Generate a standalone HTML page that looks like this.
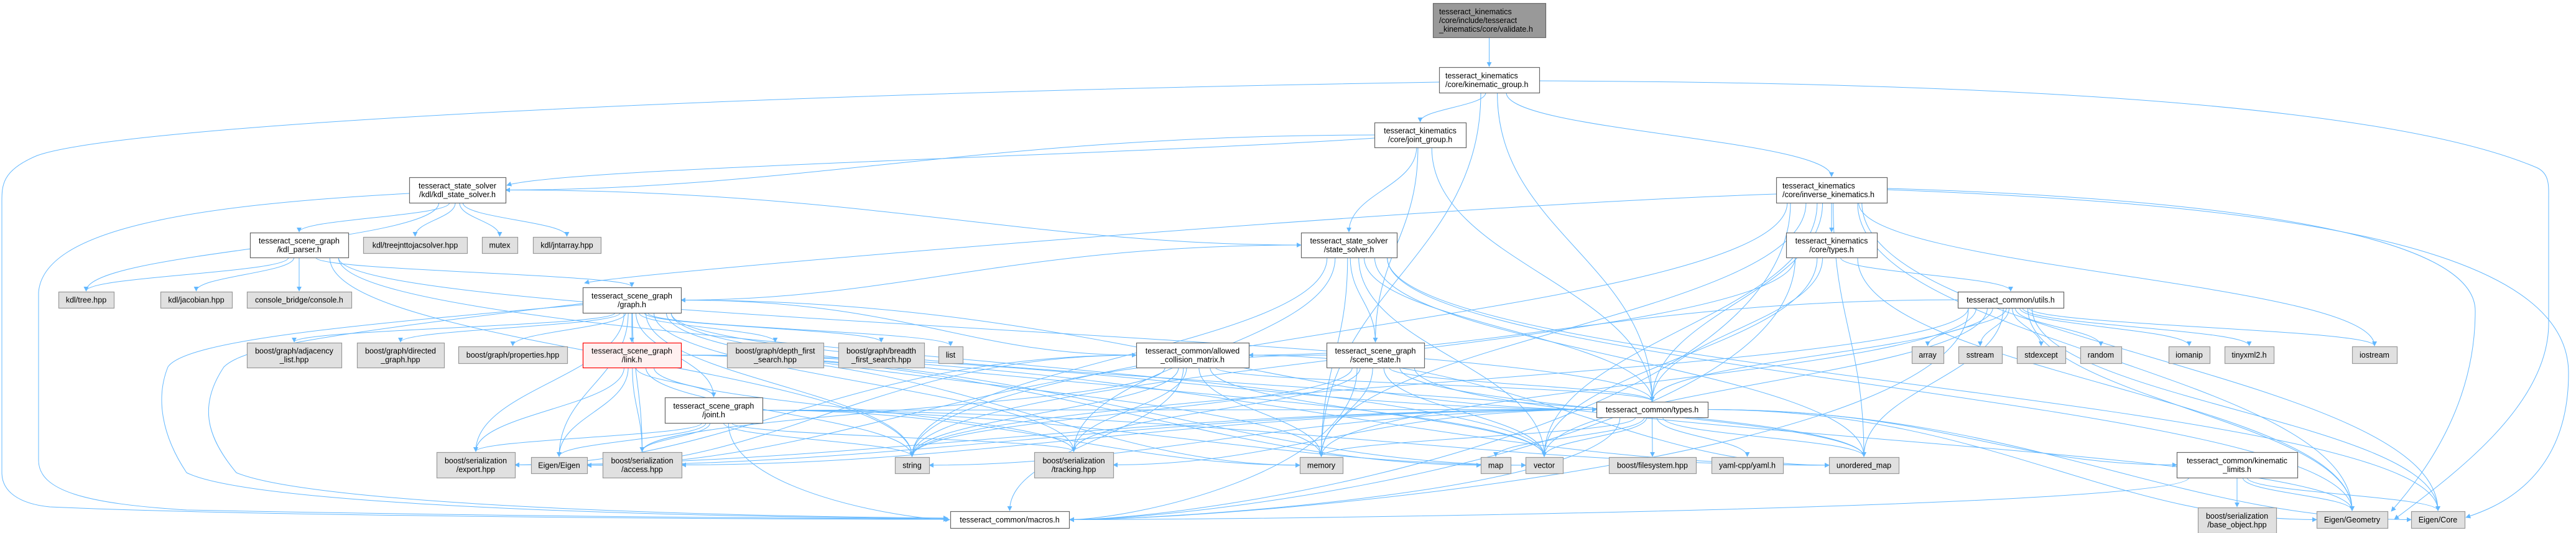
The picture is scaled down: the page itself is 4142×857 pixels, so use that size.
<!DOCTYPE html>
<html><head><meta charset="utf-8">
<style>
html,body{margin:0;padding:0;background:#fff;}
svg{display:block;}
text{font-family:"Liberation Sans",Arial,sans-serif;font-size:12.5px;fill:#000;}
</style></head>
<body>
<svg id="g" width="4142" height="857" viewBox="0 0 4142 857" xmlns="http://www.w3.org/2000/svg">
<defs>
<marker id="ah" viewBox="0 0 10 10" refX="9" refY="5" markerWidth="8" markerHeight="8" orient="auto" markerUnits="userSpaceOnUse">
<path d="M0,0 L10,5 L0,10 z" fill="#63b8ff"/>
</marker>
</defs>
<g id="edges" fill="none" stroke="#63b8ff" stroke-width="1"></g>
<g id="nodes"></g>
</svg>
<script>
var N={
validate:[2304,5,2485,60,3,["tesseract_kinematics","/core/include/tesseract","_kinematics/core/validate.h"]],
kgroup:[2314,108,2475,149,0,["tesseract_kinematics","/core/kinematic_group.h"]],
jgroup:[2210,197,2357,237,0,["tesseract_kinematics","/core/joint_group.h"]],
kdlss:[658,285,813,326,0,["tesseract_state_solver","/kdl/kdl_state_solver.h"]],
invk:[2856,285,3034,326,0,["tesseract_kinematics","/core/inverse_kinematics.h"]],
kdlparser:[402,374,560,414,0,["tesseract_scene_graph","/kdl_parser.h"]],
treejnt:[584,381,751,407,1,["kdl/treejnttojacsolver.hpp"]],
mutex:[775,381,832,407,1,["mutex"]],
jntarray:[857,381,966,407,1,["kdl/jntarray.hpp"]],
ss:[2092,374,2246,414,0,["tesseract_state_solver","/state_solver.h"]],
ktypes:[2872,374,3018,414,0,["tesseract_kinematics","/core/types.h"]],
tree:[94,469,183,495,1,["kdl/tree.hpp"]],
jac:[258,469,373,495,1,["kdl/jacobian.hpp"]],
console:[397,469,565,495,1,["console_bridge/console.h"]],
graph:[937,462,1095,503,0,["tesseract_scene_graph","/graph.h"]],
utils:[3148,469,3318,495,0,["tesseract_common/utils.h"]],
adj:[397,551,549,591,1,["boost/graph/adjacency","_list.hpp"]],
dir:[574,551,714,591,1,["boost/graph/directed","_graph.hpp"]],
prop:[737,557,912,584,1,["boost/graph/properties.hpp"]],
link:[937,551,1095,591,2,["tesseract_scene_graph","/link.h"]],
dfs:[1169,551,1324,591,1,["boost/graph/depth_first","_search.hpp"]],
bfs:[1348,551,1486,591,1,["boost/graph/breadth","_first_search.hpp"]],
list:[1509,557,1548,584,1,["list"]],
acm:[1827,551,2008,591,0,["tesseract_common/allowed","_collision_matrix.h"]],
scst:[2133,551,2290,591,0,["tesseract_scene_graph","/scene_state.h"]],
array:[3074,557,3125,584,1,["array"]],
sstream:[3149,557,3219,584,1,["sstream"]],
stdexc:[3243,557,3321,584,1,["stdexcept"]],
random:[3345,557,3411,584,1,["random"]],
iomanip:[3487,557,3553,584,1,["iomanip"]],
tinyxml:[3577,557,3656,584,1,["tinyxml2.h"]],
iostream:[3782,557,3854,584,1,["iostream"]],
joint:[1069,639,1226,680,0,["tesseract_scene_graph","/joint.h"]],
types:[2567,646,2746,671,0,["tesseract_common/types.h"]],
export:[702,727,828,768,1,["boost/serialization","/export.hpp"]],
eigen:[854,735,944,761,1,["Eigen/Eigen"]],
access:[969,727,1096,768,1,["boost/serialization","/access.hpp"]],
string:[1439,735,1494,761,1,["string"]],
tracking:[1663,727,1790,768,1,["boost/serialization","/tracking.hpp"]],
memory:[2090,735,2159,761,1,["memory"]],
map:[2381,735,2429,761,1,["map"]],
vector:[2453,735,2513,761,1,["vector"]],
fs:[2587,735,2727,761,1,["boost/filesystem.hpp"]],
yaml:[2752,735,2867,761,1,["yaml-cpp/yaml.h"]],
umap:[2941,735,3053,761,1,["unordered_map"]],
klim:[3500,727,3694,768,0,["tesseract_common/kinematic","_limits.h"]],
macros:[1528,822,1719,849,0,["tesseract_common/macros.h"]],
base:[3534,816,3660,857,1,["boost/serialization","/base_object.hpp"]],
geom:[3725,822,3839,849,1,["Eigen/Geometry"]],
core:[3877,822,3963,849,1,["Eigen/Core"]]
};
var E=[
["validate","kgroup"],["kgroup","jgroup"],["kgroup","invk"],["kgroup","memory"],["kgroup","types"],
["jgroup","kdlss"],["jgroup","scst"],["jgroup","types"],["jgroup","ss"],
["kdlss","kdlparser"],["kdlss","treejnt"],["kdlss","mutex"],["kdlss","jntarray"],["kdlss","tree"],["kdlss","ss"],
["kdlparser","tree"],["kdlparser","jac"],["kdlparser","console"],["kdlparser","graph"],["kdlparser","vector"],["kdlparser","string"],["kdlparser","types"],
["ss","graph"],["ss","scst"],["ss","memory"],["ss","vector"],["ss","types"],["ss","umap"],["ss","geom"],["ss","string"],["ss","core"],["ss","tracking"],
["graph","adj"],["graph","dir"],["graph","prop"],["graph","link"],["graph","dfs"],["graph","bfs"],["graph","list"],["graph","acm"],["graph","joint"],["graph","export"],["graph","access"],["graph","string"],["graph","memory"],["graph","eigen"],["graph","tracking"],["graph","types"],["graph","vector"],["graph","umap"],
["link","joint"],["link","export"],["link","eigen"],["link","access"],["link","string"],["link","memory"],["link","vector"],["link","tracking"],["link","map"],["link","types"],["link","umap"],
["joint","export"],["joint","eigen"],["joint","access"],["joint","string"],["joint","tracking"],["joint","memory"],["joint","vector"],["joint","umap"],["joint","macros"],["joint","types"],
["acm","types"],["acm","string"],["acm","memory"],["acm","vector"],["acm","umap"],["acm","macros"],["acm","tracking"],["acm","export"],["acm","access"],["acm","eigen"],
["scst","types"],["scst","memory"],["scst","vector"],["scst","macros"],["scst","umap"],["scst","string"],["scst","geom"],["scst","tracking"],["scst","eigen"],
["types","string"],["types","memory"],["types","map"],["types","vector"],["types","fs"],["types","yaml"],["types","umap"],["types","macros"],["types","klim"],["types","core"],["types","geom"],["types","export"],["types","access"],["types","tracking"],["types","eigen"],
["invk","ktypes"],["invk","iostream"],["invk","core"],["invk","geom"],["invk","types"],["invk","memory"],["invk","vector"],["invk","string"],["invk","umap"],["invk","macros"],
["ktypes","utils"],["ktypes","types"],["ktypes","macros"],["ktypes","vector"],["ktypes","geom"],["ktypes","string"],
["utils","array"],["utils","sstream"],["utils","stdexc"],["utils","random"],["utils","iomanip"],["utils","tinyxml"],["utils","iostream"],["utils","types"],["utils","acm"],["utils","core"],["utils","geom"],["utils","vector"],["utils","string"],["utils","umap"],["utils","memory"],["utils","macros"],
["klim","base"],["klim","geom"],["klim","core"],["klim","macros"]
];
var NS="http://www.w3.org/2000/svg";
var eg=document.getElementById("edges"),ng=document.getElementById("nodes");
function mk(t,a,p){var e=document.createElementNS(NS,t);for(var k in a)e.setAttribute(k,a[k]);p.appendChild(e);return e;}
function cx(n){return (n[0]+n[2])/2;}
E.forEach(function(e){
 var s=N[e[0]],t=N[e[1]];
 var sx=cx(s),sy=s[3],tx=cx(t),ty=t[1];
 var dx=tx-sx;
 // start offset toward target
 var w=(s[2]-s[0])/2;
 sx+=Math.max(-w*0.8,Math.min(w*0.8,dx*0.05));
 var d;
 if(e[1]=="macros" && Math.abs(dx)>400){
   // come in from the side
   var ex = dx>0? t[0]: t[2]; var ey=(t[1]+t[3])/2;
   d="M"+sx+","+sy+" C"+sx+","+(sy+(ey-sy)*0.7)+" "+(ex+(sx-ex)*0.2)+","+ey+" "+(ex+(dx>0?-1:1))+","+ey;
 } else if(Math.abs(dx)>900 && ty-sy<200){
   var ex2 = dx>0? t[0]: t[2]; var ey2=(t[1]+t[3])/2;
   sx=dx>0?s[2]:s[0]; sy=(s[1]+s[3])/2;
   d="M"+sx+","+sy+" C"+(sx+dx*0.4)+","+sy+" "+(ex2-dx*0.3)+","+ey2+" "+ex2+","+ey2;
 } else {
   var dy=ty-sy;
   d="M"+sx+","+sy+" C"+sx+","+(sy+dy*0.45)+" "+tx+","+(ty-dy*0.45)+" "+tx+","+(ty-1);
 }
 mk("path",{d:d,"marker-end":"url(#ah)"},eg);
});
// long special curves
[
 "M2314,132 C1200,150 200,200 60,250 C0,275 3,300 3,330 L3,760 C3,790 30,810 80,815 C400,830 1200,835 1524,835",
 "M2475,130 C3000,132 3800,150 4080,270 C4100,280 4098,300 4098,320 L4098,520 C4098,650 3950,760 3850,835",
 "M658,311 C300,330 70,370 62,470 L62,740 C62,790 140,810 300,820 C800,830 1300,834 1524,834",
 "M2856,312 C2300,330 1000,440 940,455",
 "M2210,222 C1800,250 900,270 815,298",
 "M937,490 C600,520 300,545 270,590 C250,640 260,700 300,760 C400,810 1000,830 1524,834",
 "M937,488 C500,540 390,560 360,590 C320,650 330,700 380,760 C500,810 1100,830 1524,833",
 "M3034,305 C3700,330 4130,400 4130,600 C4130,780 4000,820 3965,832",
 "M3034,303 C3600,320 3980,380 3980,500 C3980,650 3900,760 3845,822"
].forEach(function(d){mk("path",{d:d,"marker-end":"url(#ah)"},eg);});
for(var k in N){
 var n=N[k];var fill=["#fff","#e0e0e0","#fff0f0","#999"][n[4]];var st=["#666","#999","#ff0000","#666"][n[4]];
 mk("rect",{x:n[0]+0.5,y:n[1]+0.5,width:n[2]-n[0],height:n[3]-n[1],fill:fill,stroke:st,"stroke-width":1.2},ng);
 var L=n[5],lh=14,h=n[3]-n[1],y0=n[1]+h/2-(L.length-1)*lh/2+4.5;
 var left=(k=="validate"||k=="kgroup"||k=="invk");
 L.forEach(function(s,i){
  var t=mk("text",{x:left?n[0]+10:cx(n),y:y0+i*lh,"text-anchor":left?"start":"middle"},ng);
  t.textContent=s;
 });
}
</script>
</body></html>
